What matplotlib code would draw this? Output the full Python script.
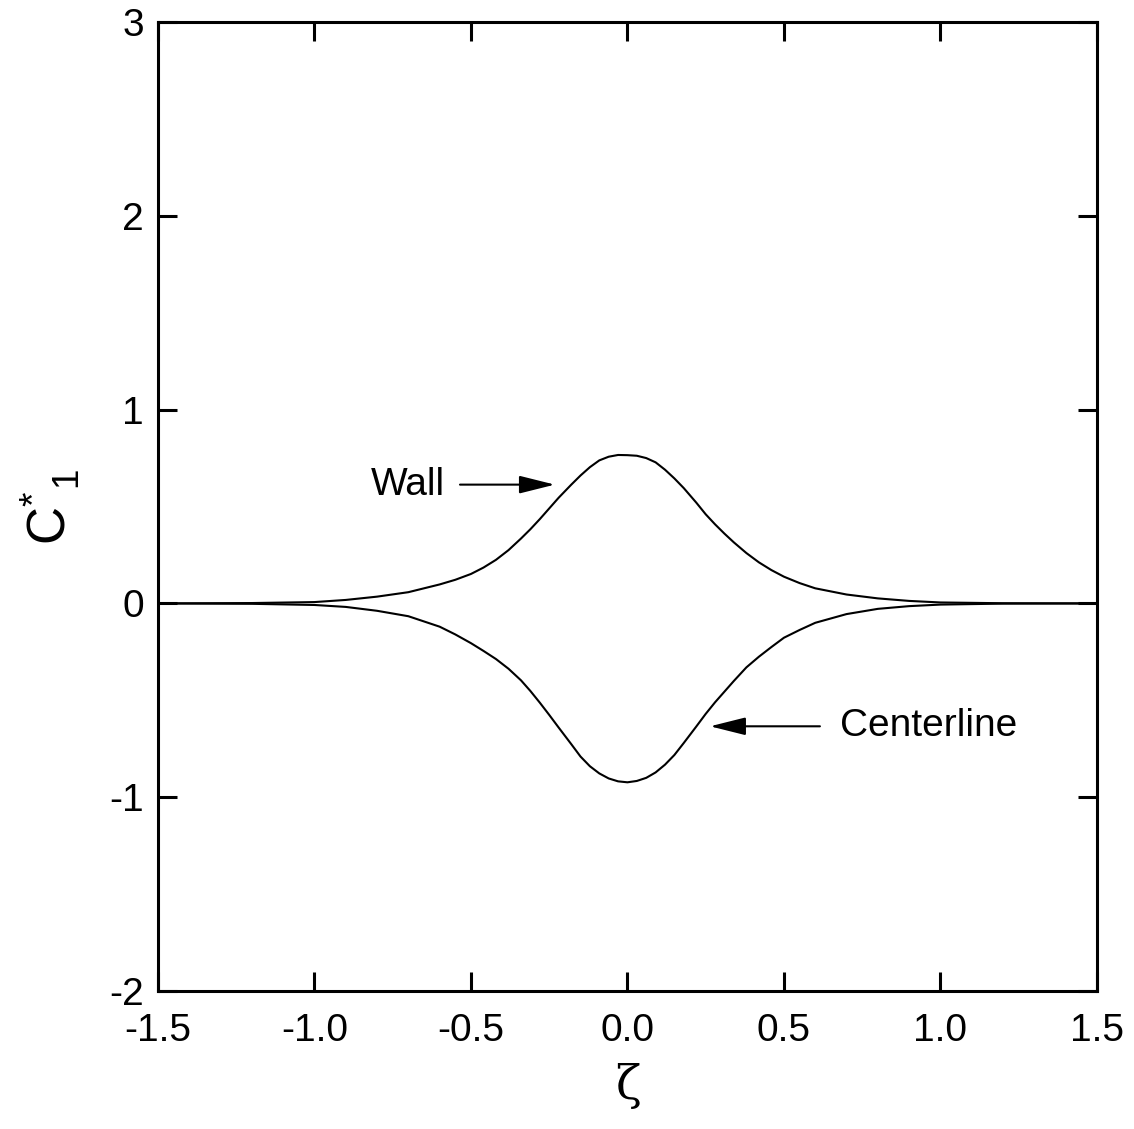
import numpy as np
import matplotlib.pyplot as plt

plt.rcParams['font.family'] = ['Liberation Sans', 'DejaVu Sans']
plt.rcParams['mathtext.fontset'] = 'custom'
plt.rcParams['mathtext.rm'] = 'Liberation Sans'
plt.rcParams['mathtext.it'] = 'Liberation Sans'

# zeta positions
zeta = [-1.5, -1.2, -1.0, -0.9, -0.8, -0.7, -0.6, -0.55, -0.5, -0.46, -0.42, -0.38,
        -0.34, -0.31, -0.28, -0.25, -0.22, -0.18, -0.15, -0.12, -0.09, -0.06, -0.03,
        0.0, 0.03, 0.06, 0.09, 0.12, 0.15, 0.18, 0.22, 0.25, 0.28, 0.31, 0.34, 0.38,
        0.42, 0.46, 0.5, 0.55, 0.6, 0.7, 0.8, 0.9, 1.0, 1.2, 1.5]

wall = [0.0, 0.002, 0.007, 0.018, 0.035, 0.058, 0.098, 0.122, 0.152, 0.185, 0.225, 0.275,
        0.335, 0.383, 0.435, 0.49, 0.545, 0.612, 0.66, 0.703, 0.738, 0.757, 0.766,
        0.765, 0.762, 0.75, 0.728, 0.69, 0.645, 0.595, 0.52, 0.46, 0.408, 0.36, 0.315, 0.26,
        0.212, 0.172, 0.138, 0.105, 0.078, 0.046, 0.026, 0.013, 0.005, 0.001, 0.0]

centerline = [0.0, -0.002, -0.008, -0.018, -0.038, -0.066, -0.12, -0.16, -0.205, -0.245, -0.287, -0.337,
              -0.397, -0.452, -0.512, -0.575, -0.64, -0.725, -0.79, -0.84, -0.877, -0.903, -0.918,
              -0.923, -0.916, -0.9, -0.872, -0.832, -0.782, -0.72, -0.635, -0.57, -0.51, -0.455, -0.4, -0.33,
              -0.275, -0.225, -0.177, -0.137, -0.1, -0.055, -0.028, -0.014, -0.006, -0.001, 0.0]

fig = plt.figure(figsize=(11.34, 11.29), dpi=100)
ax = fig.add_axes([0.1393, 0.1222, 0.828, 0.8583])

ax.plot(zeta, wall, color='black', lw=1.5)
ax.plot(zeta, centerline, color='black', lw=1.5)

ax.set_xlim(-1.5, 1.5)
ax.set_ylim(-2, 3)
ax.set_xticks(np.arange(-1.5, 1.51, 0.5))
ax.set_xticklabels(['-1.5', '-1.0', '-0.5', '0.0', '0.5', '1.0', '1.5'])
ax.set_yticks([-2, -1, 0, 1, 2, 3])
ax.set_yticklabels(['-2', '-1', '0', '1', '2', '3'])
ax.tick_params(direction='in', length=14, width=2.2, top=True, right=True,
               labelsize=28)
ax.tick_params(axis='x', pad=16)
ax.tick_params(axis='y', pad=10)
for s in ax.spines.values():
    s.set_linewidth(2.2)

ax.set_xlabel('ζ', family='DejaVu Serif', fontsize=34, labelpad=10)
ax.set_ylabel(r'C$^{*}_{\;\;1}$', fontsize=38, labelpad=20)

arrow = dict(arrowstyle='-|>,head_length=1.0,head_width=0.25', color='black', lw=1.5,
             mutation_scale=22, shrinkA=0, shrinkB=0)
ax.annotate('', xy=(-0.232, 0.613), xytext=(-0.535, 0.613), arrowprops=arrow)
ax.text(-0.583, 0.613, 'Wall', fontsize=28, ha='right', va='center')

ax.annotate('', xy=(0.264, -0.634), xytext=(0.615, -0.634), arrowprops=arrow)
ax.text(0.679, -0.634, 'Centerline', fontsize=28, ha='left', va='center')

fig.savefig('out.png', dpi=100)
